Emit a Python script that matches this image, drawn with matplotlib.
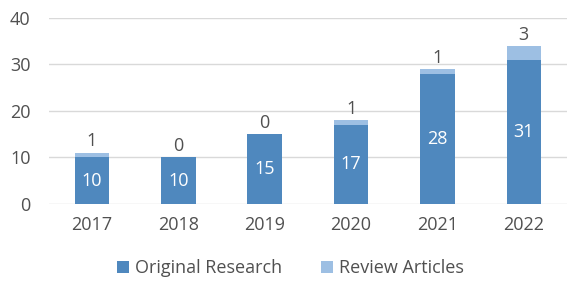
import matplotlib
matplotlib.use("Agg")
import matplotlib.pyplot as plt
import numpy as np

years = ['2017', '2018', '2019', '2020', '2021', '2022']
original = [10, 10, 15, 17, 28, 31]
review = [1, 0, 0, 1, 1, 3]

c_orig = '#4F88BE'
c_rev = '#9DBFE3'
txt = '#505050'

plt.rcParams['font.family'] = ['Open Sans', 'DejaVu Sans']

fig = plt.figure(figsize=(5.81, 2.90), dpi=100)
ax = fig.add_axes([0.084, 0.297, 0.892, 0.641])

x = np.arange(len(years))
w = 0.4
ax.bar(x, original, w, color=c_orig, label='Original Research', zorder=3)
ax.bar(x, review, w, bottom=original, color=c_rev, label='Review Articles', zorder=3)

for i in range(len(years)):
    ax.text(x[i], original[i] / 2, str(original[i]), ha='center', va='center',
            color='white', fontsize=13, zorder=4)
    ax.text(x[i], original[i] + review[i] + 0.5, str(review[i]), ha='center', va='bottom',
            color=txt, fontsize=13, zorder=4)

ax.set_xlim(-0.5, len(years) - 0.5)
ax.set_ylim(0, 40)
ax.set_yticks([0, 10, 20, 30, 40])
ax.set_xticks(x)
ax.set_xticklabels(years)
ax.yaxis.grid(True, color='#D9D9D9', linewidth=1, zorder=0)
for s in ax.spines.values():
    s.set_visible(False)
ax.tick_params(axis='both', length=0, labelsize=13, labelcolor=txt)
ax.tick_params(axis='x', pad=9)
ax.tick_params(axis='y', pad=13)

fig.legend(loc='center', bbox_to_anchor=(0.5, 0.075), ncol=2, frameon=False,
           fontsize=13, labelcolor=txt, handlelength=0.65, handleheight=0.65,
           handletextpad=0.3, columnspacing=2.2)

fig.savefig('out.png', dpi=100)
